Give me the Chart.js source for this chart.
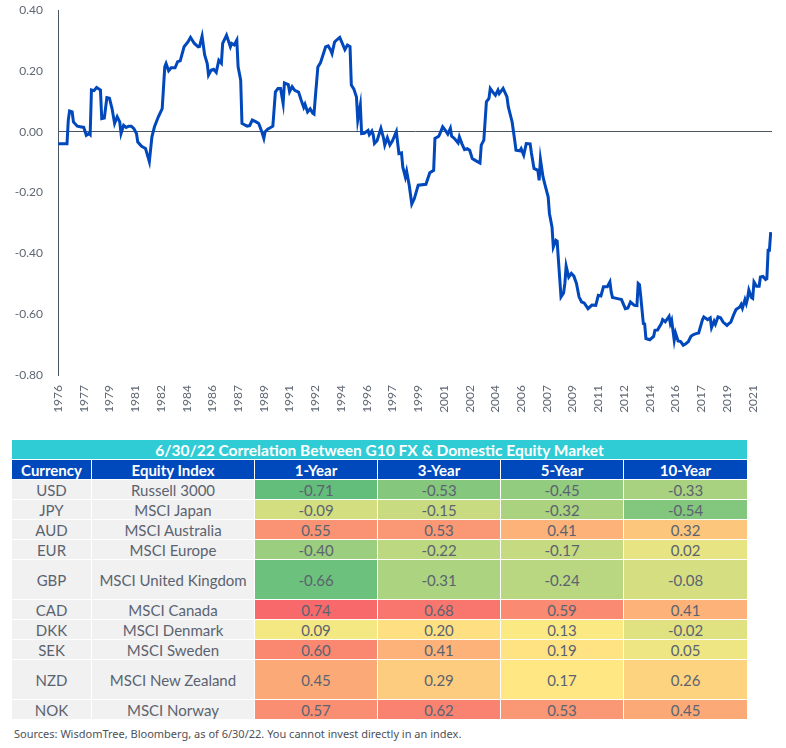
<!DOCTYPE html>
<html>
<head>
<meta charset="utf-8">
<script src="https://cdn.jsdelivr.net/npm/chart.js@4"></script>
<style>
  body { margin: 0; background: #fff; font-family: Lato, sans-serif; }
  #chart-box { position: absolute; left: 0; top: 0; width: 786px; height: 430px; }
  #corr-table { position: absolute; left: 11px; top: 439px; width: 736px; border-collapse: collapse; table-layout: fixed; border: 1px solid #a3a3a3; }
  #corr-table td, #corr-table th { border: 1px solid #fff; padding: 0; text-align: center; font-size: 15px; line-height: 18px; height: 19px; }
  #corr-table .title { background: #30ccd5; color: #fff; font-weight: bold; font-size: 15.5px; }
  #corr-table .head { background: #0049bd; color: #fff; font-weight: bold; }
  #corr-table td { color: #5b6370; }
  #corr-table td.name { background: #f1f1f1; }
  #corr-table tr.tall td { height: 39px; }
  #source { position: absolute; left: 14px; top: 726px; font-family: "Noto Sans", sans-serif; font-size: 11px; color: #4d5158; }
</style>
</head>
<body>
<div id="chart-box"><canvas id="corr-chart"></canvas></div>
<table id="corr-table"></table>
<div id="source">Sources: WisdomTree, Bloomberg, as of 6/30/22. You cannot invest directly in an index.</div>
<script>
// rolling correlation, months counted from Jan 1976
const months = [
  0, 7, 8, 9, 11, 12, 15, 20, 22, 24, 25, 26, 28, 30, 33, 34, 36, 38, 40, 42,
  44, 46, 48, 49, 51, 53, 55, 57, 59, 61, 62, 65, 68, 71, 73, 75, 78, 81, 83, 84,
  86, 88, 91, 93, 95, 98, 101, 103, 106, 109, 110, 112, 114, 116, 117, 119, 121, 123, 125, 127,
  128, 131, 134, 135, 137, 139, 140, 142, 143, 147, 149, 151, 154, 156, 158, 160, 161, 163, 167, 169,
  171, 173, 175, 176, 179, 180, 182, 184, 187, 189, 191, 192, 194, 196, 198, 199, 200, 202, 204, 206,
  208, 210, 212, 213, 215, 217, 219, 221, 223, 225, 227, 228, 230, 232, 233, 235, 236, 238, 241, 242,
  244, 245, 246, 248, 251, 253, 254, 256, 258, 260, 263, 265, 267, 268, 270, 271, 273, 275, 277, 280,
  286, 289, 292, 293, 296, 298, 299, 301, 303, 305, 306, 308, 311, 312, 314, 316, 318, 320, 322, 325,
  328, 329, 331, 333, 335, 336, 338, 340, 342, 343, 346, 349, 350, 353, 355, 356, 359, 360, 362, 364,
  367, 368, 370, 373, 374, 375, 377, 379, 381, 382, 384, 385, 387, 388, 389, 391, 393, 394, 395, 397,
  399, 401, 403, 405, 407, 409, 412, 415, 418, 420, 422, 424, 427, 429, 430, 431, 435, 438, 441, 443,
  445, 448, 450, 451, 452, 453, 455, 456, 457, 460, 463, 464, 466, 469, 470, 472, 475, 476, 477, 479,
  480, 482, 484, 486, 488, 490, 492, 494, 496, 498, 501, 502, 504, 505, 507, 508, 510, 511, 513, 515,
  517, 520, 521, 523, 525, 527, 530, 531, 532, 534, 535, 536, 537, 539, 540, 541, 543, 545, 546, 548,
  550, 551, 552, 553, 554
];
const correlation = [
  -0.04, -0.04, 0.038, 0.068, 0.065, 0.032, 0.018, 0.014, -0.012, -0.006, -0.01, 0.137, 0.135, 0.145, 0.137, 0.043, 0.045, 0.112, 0.11, 0.076,
  0.027, 0.049, 0.032, -0.006, 0.021, 0.014, 0.018, 0.018, 0.01, -0.006, -0.034, -0.048, -0.055, -0.099, -0.017, 0.016, 0.049, 0.076, 0.213, 0.224,
  0.2, 0.21, 0.21, 0.23, 0.233, 0.279, 0.295, 0.31, 0.29, 0.279, 0.28, 0.314, 0.252, 0.224, 0.186, 0.202, 0.205, 0.195, 0.235, 0.225,
  0.29, 0.317, 0.279, 0.29, 0.285, 0.301, 0.213, 0.169, 0.027, 0.018, 0.02, 0.038, 0.032, 0.027, 0.005, -0.022, 0, 0.008, 0.018, 0.131,
  0.142, 0.142, 0.093, 0.16, 0.155, 0.131, 0.148, 0.136, 0.13, 0.104, 0.08, 0.09, 0.065, 0.075, 0.061, 0.058, 0.112, 0.213, 0.226, 0.252,
  0.279, 0.282, 0.268, 0.257, 0.295, 0.303, 0.31, 0.29, 0.27, 0.285, 0.28, 0.153, 0.14, 0.114, 0.038, 0.087, -0.006, -0.005, 0.004, -0.01,
  0.002, -0.01, -0.039, -0.03, 0.011, -0.02, -0.044, -0.02, -0.044, -0.03, 0, -0.072, -0.07, -0.116, -0.149, -0.13, -0.176, -0.238, -0.22, -0.176,
  -0.173, -0.135, -0.127, -0.022, -0.015, 0.005, 0.016, 0.005, -0.008, 0.011, -0.015, -0.022, -0.037, -0.017, -0.04, -0.059, -0.056, -0.061, -0.088, -0.096,
  -0.103, -0.044, -0.028, 0.098, 0.109, 0.142, 0.13, 0.12, 0.137, 0.125, 0.142, 0.114, 0.082, 0.032, -0.028, -0.061, -0.063, -0.056, -0.077, -0.039,
  -0.04, -0.07, -0.121, -0.127, -0.16, -0.091, -0.149, -0.182, -0.214, -0.269, -0.313, -0.379, -0.357, -0.36, -0.423, -0.543, -0.53, -0.499, -0.442, -0.478,
  -0.466, -0.475, -0.499, -0.543, -0.56, -0.563, -0.582, -0.57, -0.571, -0.538, -0.54, -0.51, -0.51, -0.494, -0.527, -0.545, -0.549, -0.552, -0.582, -0.58,
  -0.56, -0.571, -0.572, -0.499, -0.503, -0.543, -0.631, -0.632, -0.68, -0.684, -0.673, -0.653, -0.652, -0.631, -0.618, -0.625, -0.607, -0.631, -0.62, -0.686,
  -0.662, -0.688, -0.69, -0.702, -0.697, -0.69, -0.673, -0.667, -0.664, -0.662, -0.618, -0.609, -0.615, -0.618, -0.612, -0.644, -0.623, -0.633, -0.609, -0.612,
  -0.626, -0.637, -0.633, -0.626, -0.604, -0.585, -0.576, -0.568, -0.58, -0.552, -0.565, -0.548, -0.521, -0.545, -0.548, -0.494, -0.508, -0.508, -0.478, -0.476,
  -0.486, -0.483, -0.39, -0.39, -0.33
];
const startYear = 1976;
const yTicks = [-0.8, -0.6, -0.4, -0.2, 0, 0.2, 0.4];

// table data
const tableTitle = "6/30/22 Correlation Between G10 FX & Domestic Equity Market";
const tableHeaders = ["Currency", "Equity Index", "1-Year", "3-Year", "5-Year", "10-Year"];
const currencies = ["USD", "JPY", "AUD", "EUR", "GBP", "CAD", "DKK", "SEK", "NZD", "NOK"];
const equityIndexes = ["Russell 3000", "MSCI Japan", "MSCI Australia", "MSCI Europe", "MSCI United Kingdom",
  "MSCI Canada", "MSCI Denmark", "MSCI Sweden", "MSCI New Zealand", "MSCI Norway"];
const oneYear = [-0.71, -0.09, 0.55, -0.40, -0.66, 0.74, 0.09, 0.60, 0.45, 0.57];
const threeYear = [-0.53, -0.15, 0.53, -0.22, -0.31, 0.68, 0.20, 0.41, 0.29, 0.62];
const fiveYear = [-0.45, -0.32, 0.41, -0.17, -0.24, 0.59, 0.13, 0.19, 0.17, 0.53];
const tenYear = [-0.33, -0.54, 0.32, 0.02, -0.08, 0.41, -0.02, 0.05, 0.26, 0.45];

const tallRows = ["GBP", "NZD"];

function drawChart() {
  const ctx = document.getElementById("corr-chart").getContext("2d");
  const points = months.map((m, i) => ({ x: m, y: correlation[i] }));
  const tickFont = { family: "Lato", size: 12 };

  new Chart(ctx, {
    type: "line",
    data: {
      datasets: [{
        data: points,
        borderColor: "#0048bb",
        borderWidth: 3,
        pointRadius: 0,
        fill: false,
        tension: 0,
      }],
    },
    options: {
      responsive: true,
      maintainAspectRatio: false,
      animation: false,
      layout: { padding: { top: 0, right: 14, left: 0, bottom: 0 } },
      plugins: { legend: { display: false }, tooltip: { enabled: false } },
      scales: {
        x: {
          type: "linear",
          min: 0,
          max: 555,
          grid: { display: false, drawTicks: false },
          border: { display: false },
          afterFit: (axis) => { axis.height = 55; },
          ticks: {
            stepSize: 20,
            includeBounds: false,
            autoSkip: false,
            minRotation: 90,
            maxRotation: 90,
            padding: 10,
            color: "#5f6772",
            font: tickFont,
            callback: (v) => String(startYear + Math.floor(v / 12)),
          },
        },
        y: {
          min: yTicks[0],
          max: yTicks[yTicks.length - 1],
          afterFit: (axis) => {
            axis.width = 58;
            axis.paddingTop = 10;
            axis.paddingBottom = 0;
          },
          afterBuildTicks: (axis) => { axis.ticks = yTicks.map((v) => ({ value: v })); },
          border: { display: true, color: "#4b5663", width: 1 },
          grid: {
            drawTicks: false,
            color: (c) => (c.tick && c.tick.value === 0 ? "#4b5663" : "rgba(0,0,0,0)"),
          },
          ticks: {
            padding: 15,
            color: "#5f6772",
            font: tickFont,
            callback: (v) => Number(v).toFixed(2),
          },
        },
      },
    },
  });
}

// Excel-style 3 colour scale: green (min) -> yellow (median) -> red (max)
function scaleColor(v, lo, mid, hi) {
  const green = [99, 190, 123], yellow = [255, 235, 132], red = [248, 105, 107];
  let a, b, t;
  if (v <= mid) { a = green; b = yellow; t = (v - lo) / (mid - lo); }
  else { a = yellow; b = red; t = (v - mid) / (hi - mid); }
  const c = a.map((x, i) => Math.round(x + (b[i] - x) * t));
  return `rgb(${c[0]},${c[1]},${c[2]})`;
}

function drawTable() {
  const table = document.getElementById("corr-table");
  const columns = [oneYear, threeYear, fiveYear, tenYear];
  const all = columns.flat().slice().sort((a, b) => a - b);
  const lo = all[0], hi = all[all.length - 1];
  const mid = (all[all.length / 2 - 1] + all[all.length / 2]) / 2;

  const colgroup = document.createElement("colgroup");
  [80, 163, 123, 123, 123, 124].forEach((w) => {
    const col = document.createElement("col");
    col.style.width = w + "px";
    colgroup.appendChild(col);
  });
  table.appendChild(colgroup);

  const titleRow = document.createElement("tr");
  const titleCell = document.createElement("th");
  titleCell.colSpan = 6;
  titleCell.className = "title";
  titleCell.textContent = tableTitle;
  titleRow.appendChild(titleCell);
  table.appendChild(titleRow);

  const headRow = document.createElement("tr");
  tableHeaders.forEach((h) => {
    const th = document.createElement("th");
    th.className = "head";
    th.textContent = h;
    headRow.appendChild(th);
  });
  table.appendChild(headRow);

  currencies.forEach((cur, i) => {
    const tr = document.createElement("tr");
    if (tallRows.includes(cur)) tr.className = "tall";
    [cur, equityIndexes[i]].forEach((txt) => {
      const td = document.createElement("td");
      td.className = "name";
      td.textContent = txt;
      tr.appendChild(td);
    });
    columns.forEach((col) => {
      const td = document.createElement("td");
      td.textContent = col[i].toFixed(2);
      td.style.background = scaleColor(col[i], lo, mid, hi);
      tr.appendChild(td);
    });
    table.appendChild(tr);
  });
}

drawChart();
drawTable();
</script>
</body>
</html>
